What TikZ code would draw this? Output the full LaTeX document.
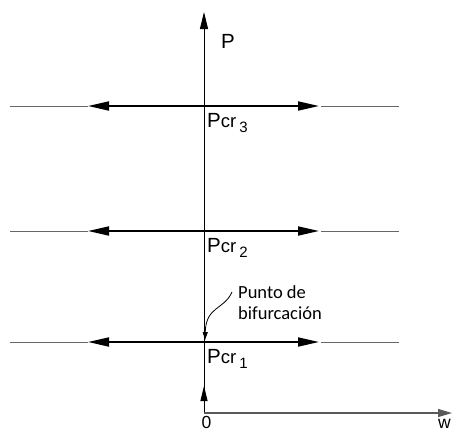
\documentclass[tikz,border=0pt]{standalone}
\usepackage{fontspec}
\setmainfont{Liberation Sans}
\newfontfamily\calib{Carlito}
\usetikzlibrary{arrows.meta}
\begin{document}
\begin{tikzpicture}[x=1pt,y=-1pt,
  thinline/.style={line width=0.9pt,draw=black!60},
  axisline/.style={line width=0.9pt,draw=black},
  boldarrow/.style={line width=1.8pt,draw=black,{Triangle[length=21pt,width=9pt]}-{Triangle[length=21pt,width=9pt]}},
  lbl/.style={inner sep=0pt,font=\fontsize{20.5}{21}\selectfont},
  edgelbl/.style={inner sep=0pt,font=\fontsize{17.5}{18}\selectfont},
  pcr/.style={inner sep=0pt,anchor=base west,font=\fontsize{20.5}{21}\selectfont}]
\useasboundingbox (0,0) rectangle (452,432);
% axes
\coordinate (O) at (204,413);
\coordinate (Ptop) at (204,12);
\coordinate (Wend) at (452,413);
\coordinate (Oup) at (204,386);
\draw[axisline,-{Triangle[length=17pt,width=8pt]}] (O) -- (Ptop);
\draw[axisline,-{Triangle[length=15pt,width=7pt]}] (O) -- (Oup);
\draw[line width=1.2pt,draw=black!65,-{Triangle[length=14pt,width=8pt]}] (O) -- (Wend);
\node[edgelbl,anchor=base] (zero) at (206.5,428) {0};
\node[edgelbl,anchor=base west] (w) at (438,428) {w};
\node[lbl,anchor=base west] (P) at (221,48) {P};
% levels
\foreach \y/\n in {106/3,231/2,342/1}{
  \coordinate (L\n) at (10,\y);
  \coordinate (A\n) at (88,\y);
  \coordinate (B\n) at (319,\y);
  \coordinate (C\n) at (321,\y);
  \coordinate (R\n) at (399,\y);
  \draw[thinline] (L\n) -- (A\n);
  \draw[thinline] (C\n) -- (R\n);
  \draw[boldarrow] (A\n) -- (B\n);
  \node[pcr] (pcr\n) at (207,\y+21.5) {P{\fontsize{18.5}{19}\selectfont cr}\kern3pt\raisebox{-5pt}{\fontsize{15}{16}\selectfont\n}};
}
% bifurcation label
\node[inner sep=0pt,anchor=base west,font=\calib\fontsize{18.5}{19}\selectfont] (t1) at (238,298) {Punto de};
\node[inner sep=0pt,anchor=base west,font=\calib\fontsize{18.5}{19}\selectfont] (t2) at (238,319) {bifurcación};
\coordinate (bstart) at (232,292);
\coordinate (bend) at (205,340);
\draw[line width=0.8pt,-{Triangle[length=8pt,width=5pt]}] (bstart) .. controls (224,310) and (206,306) .. (bend);
\end{tikzpicture}
\end{document}
